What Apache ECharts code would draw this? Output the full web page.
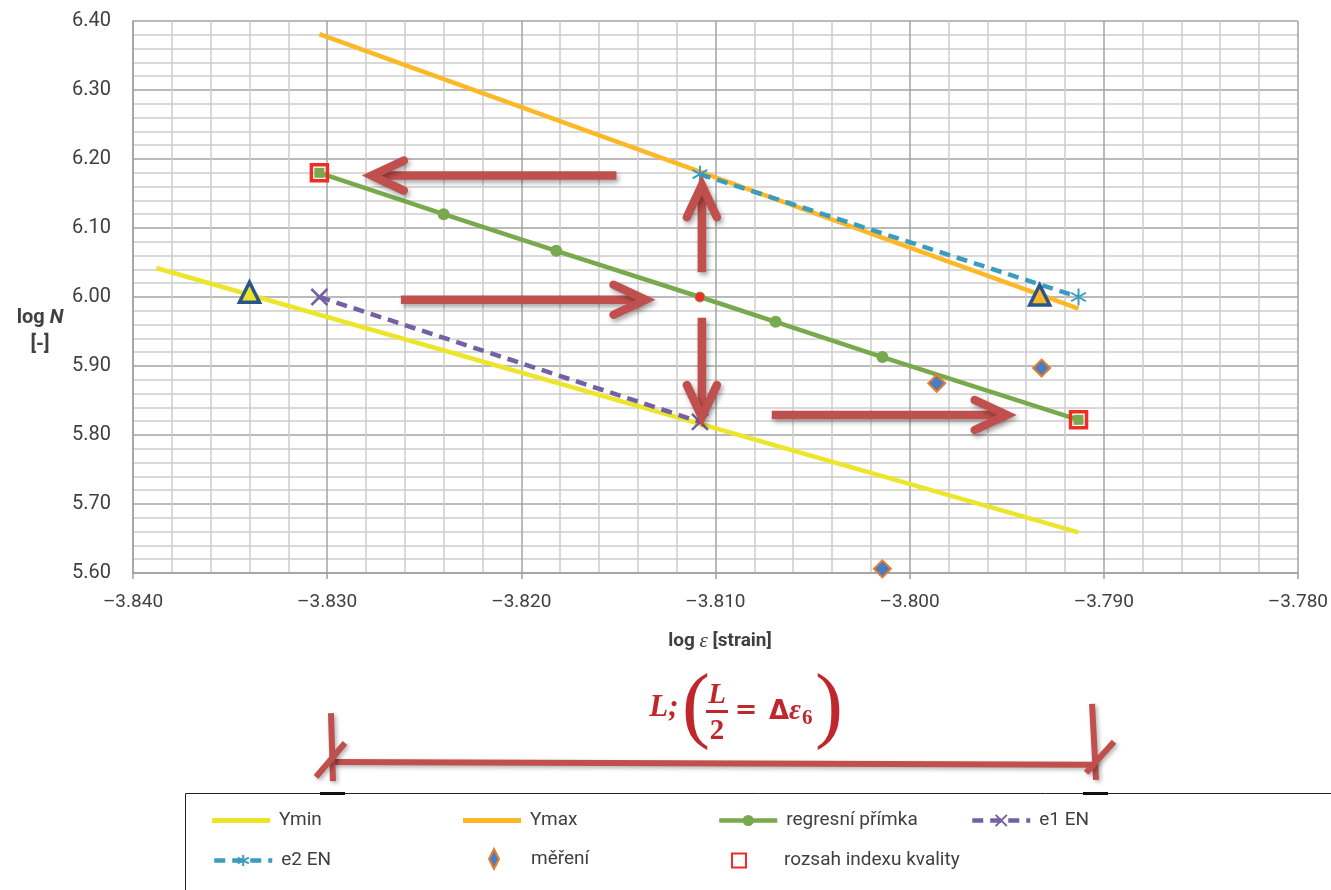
<!DOCTYPE html>
<html><head><meta charset="utf-8">
<script src="https://cdn.jsdelivr.net/npm/echarts@6/dist/echarts.min.js"></script>
<style>html,body{margin:0;padding:0;background:#fff}#c{width:1331px;height:890px}</style>
</head><body><div id="c"></div>
<script>
// ---- tick labels ----
const xTicks = [-3.84, -3.83, -3.82, -3.81, -3.80, -3.79, -3.78];
const xTickLabels = ['–3.840', '–3.830', '–3.820', '–3.810', '–3.800', '–3.790', '–3.780'];
const yTicks = [5.6, 5.7, 5.8, 5.9, 6.0, 6.1, 6.2, 6.3, 6.4];
const yTickLabels = ['5.60', '5.70', '5.80', '5.90', '6.00', '6.10', '6.20', '6.30', '6.40'];

// ---- series values ----
const yminX = [-3.8388, -3.7913];
const yminY = [6.042, 5.659];
const ymaxX = [-3.8304, -3.7913];
const ymaxY = [6.381, 5.983];
const regX = [-3.8304, -3.8240, -3.8182, -3.8108, -3.8069, -3.8014, -3.7913];
const regY = [6.180, 6.120, 6.067, 6.000, 5.964, 5.913, 5.822];
const e1X = [-3.8304, -3.8108];
const e1Y = [6.000, 5.819];
const e2X = [-3.8108, -3.7913];
const e2Y = [6.178, 6.000];
const merX = [-3.7986, -3.7932, -3.8014];
const merY = [5.875, 5.897, 5.606];
const rozX = [-3.8304, -3.7913];
const rozY = [6.180, 5.822];
const triMinX = [-3.8340];
const triMinY = [6.007];
const triMaxX = [-3.7933];
const triMaxY = [6.003];
// annotation arrows: [x1, y1, x2, y2] (tail -> tip)
const arrows = [
  [-3.8151, 6.176, -3.8277, 6.176],
  [-3.8262, 5.996, -3.8136, 5.996],
  [-3.8107, 6.036, -3.8107, 6.162],
  [-3.8107, 5.970, -3.8107, 5.826],
  [-3.8071, 5.829, -3.7950, 5.829]
];
// L range bracket (below the plot)
const bracket = [[-3.8297, 5.326, -3.7905, 5.322]];

const zip = (xs, ys) => xs.map((x, i) => [x, ys[i]]);
const fmtX = v => { const i = xTicks.findIndex(t => Math.abs(t - v) < 1e-6); return i >= 0 ? xTickLabels[i] : ''; };
const fmtY = v => { const i = yTicks.findIndex(t => Math.abs(t - v) < 1e-6); return i >= 0 ? yTickLabels[i] : ''; };

const C = {
  yellow: '#ede52b', orange: '#fdb827', green: '#78a94c', purple: '#7460a4',
  teal: '#3c9cbd', blueFill: '#4a7cc4', orangeBorder: '#e67e2a', red: '#ee2d24',
  triBorder: '#2c5587', arrow: '#c0504d', text: '#404040', Ltext: '#c0272d'
};
const FONT = 'Roboto, "Liberation Sans", sans-serif';

const regData = zip(regX, regY).map((p, i) => {
  const d = { value: p };
  if (i === 0 || i === regX.length - 1) { d.symbol = 'rect'; d.symbolSize = 10; }
  if (i === 3) { d.itemStyle = { color: C.red, borderColor: C.green, borderWidth: 1 }; d.symbolSize = 10; }
  return d;
});

function arrowItem(params, api) {
  const p1 = api.coord([api.value(0), api.value(1)]);
  const p2 = api.coord([api.value(2), api.value(3)]);
  const dx = p2[0] - p1[0], dy = p2[1] - p1[1];
  const len = Math.hypot(dx, dy), ux = dx / len, uy = dy / len;
  const back = 32, side = 15;
  const h1 = [p2[0] - ux * back - uy * side, p2[1] - uy * back + ux * side];
  const h2 = [p2[0] - ux * back + uy * side, p2[1] - uy * back - ux * side];
  const shadow = { shadowBlur: 5, shadowColor: 'rgba(0,0,0,0.35)', shadowOffsetX: 2, shadowOffsetY: 3 };
  return {
    type: 'group',
    children: [
      { type: 'line', shape: { x1: p1[0], y1: p1[1], x2: p2[0] - ux * 5, y2: p2[1] - uy * 5 },
        style: Object.assign({ stroke: C.arrow, lineWidth: 8.5, lineCap: 'butt' }, shadow) },
      { type: 'polyline', shape: { points: [h1, p2, h2] },
        style: Object.assign({ stroke: C.arrow, lineWidth: 8.5, lineCap: 'round', lineJoin: 'miter', fill: null }, shadow) }
    ]
  };
}

function bracketItem(params, api) {
  const p1 = api.coord([api.value(0), api.value(1)]);
  const p2 = api.coord([api.value(2), api.value(3)]);
  const shadow = { shadowBlur: 4, shadowColor: 'rgba(0,0,0,0.3)', shadowOffsetX: 2, shadowOffsetY: 2 };
  const st = Object.assign({ stroke: C.arrow, lineWidth: 6, lineCap: 'butt' }, shadow);
  const L = (a, b, c, d) => ({ type: 'line', shape: { x1: a, y1: b, x2: c, y2: d }, style: st });
  return {
    type: 'group',
    children: [
      L(p1[0], p1[1], p2[0], p2[1]),
      L(p1[0] - 2, p1[1] - 49, p1[0] + 0, p1[1] + 19),
      L(p1[0] - 17, p1[1] + 15, p1[0] + 12, p1[1] - 19),
      L(p2[0] - 2, p2[1] - 61, p2[0] + 2, p2[1] + 15),
      L(p2[0] - 8, p2[1] + 8, p2[0] + 20, p2[1] - 23)
    ]
  };
}

const mkLegend = (item, left, top, w, h, padLeft) => ({
  data: [item], left, top, itemWidth: w, itemHeight: h, itemGap: 0,
  textStyle: { color: C.text, fontSize: 19, fontFamily: FONT, padding: [0, 0, 0, padLeft] },
  lineStyle: { width: 4.5 },
  selectedMode: false, padding: 0
});
const lineIcon = 'path://M0,0H58V5H0Z';

const option = {
  animation: false,
  backgroundColor: '#fff',
  grid: { left: 133, right: 32, top: 21, bottom: 317, containLabel: false },
  xAxis: {
    type: 'value', min: -3.84, max: -3.78, interval: 0.01,
    axisLine: { show: true, onZero: false, lineStyle: { color: '#a0a0a0', width: 1.5 } },
    axisTick: { show: true, length: 6, lineStyle: { color: '#a0a0a0', width: 1.5 } },
    axisLabel: { formatter: fmtX, color: C.text, fontSize: 19, fontFamily: FONT, margin: 20 },
    splitLine: { show: true, lineStyle: { color: '#a3a3a3', width: 1.5 } },
    minorTick: { show: false, splitNumber: 5 },
    minorSplitLine: { show: true, lineStyle: { color: '#cdcdcd', width: 1.5 } }
  },
  yAxis: {
    type: 'value', min: 5.6, max: 6.4, interval: 0.1,
    axisLine: { show: true, lineStyle: { color: '#a0a0a0', width: 1.5 } },
    axisTick: { show: false },
    axisLabel: { formatter: fmtY, color: C.text, fontSize: 20, fontFamily: FONT, margin: 22 },
    splitLine: { show: true, lineStyle: { color: '#a3a3a3', width: 1.5 } },
    minorTick: { show: false, splitNumber: 5 },
    minorSplitLine: { show: true, lineStyle: { color: '#cdcdcd', width: 1.5 } }
  },
  legend: [
    mkLegend({ name: 'Ymin', icon: lineIcon }, 212, 811, 58, 14, 4),
    mkLegend({ name: 'Ymax', icon: lineIcon }, 463, 811, 58, 14, 4),
    mkLegend('regresní přímka', 717, 811, 58, 14, 4),
    mkLegend('e1 EN', 970, 811, 58, 14, 4),
    mkLegend('e2 EN', 212, 851, 58, 14, 4),
    mkLegend({ name: 'měření', icon: 'path://M5,0L10,10L5,20L0,10Z' }, 488, 848, 10, 20, 27),
    mkLegend({ name: 'rozsah indexu kvality', icon: 'path://M0,0H10V10H0Z' }, 731, 851, 14, 14, 33)
  ],
  series: [
    { name: 'Ymin', type: 'line', data: zip(yminX, yminY), symbol: 'none', z: 2,
      lineStyle: { color: C.yellow, width: 4.5 }, itemStyle: { color: C.yellow } },
    { name: 'Ymax', type: 'line', data: zip(ymaxX, ymaxY), symbol: 'none', z: 2,
      lineStyle: { color: C.orange, width: 4.5 }, itemStyle: { color: C.orange } },
    { name: 'regresní přímka', type: 'line', data: regData, symbol: 'circle', symbolSize: 12, z: 3,
      lineStyle: { color: C.green, width: 4.5 }, itemStyle: { color: C.green } },
    { name: 'e1 EN', type: 'line', data: zip(e1X, e1Y), z: 3,
      symbol: 'path://M0,0L10,10M10,0L0,10', symbolSize: 16, symbolKeepAspect: true,
      lineStyle: { color: C.purple, width: 4.5, type: [11, 7] },
      itemStyle: { color: C.purple, borderColor: C.purple, borderWidth: 2.5 } },
    { name: 'e2 EN', type: 'line', data: zip(e2X, e2Y), z: 3,
      symbol: 'path://M5,0L5,10M0.67,2.5L9.33,7.5M0.67,7.5L9.33,2.5', symbolSize: 17, symbolKeepAspect: true,
      lineStyle: { color: C.teal, width: 4.5, type: [11, 7] },
      itemStyle: { color: C.teal, borderColor: C.teal, borderWidth: 2 } },
    { name: 'měření', type: 'scatter', data: zip(merX, merY), symbol: 'diamond', symbolSize: 17, z: 4,
      itemStyle: { color: C.blueFill, borderColor: C.orangeBorder, borderWidth: 2, opacity: 1 } },
    { name: 'rozsah indexu kvality', type: 'scatter', data: zip(rozX, rozY), symbol: 'rect', symbolSize: 16, z: 5,
      itemStyle: { color: 'rgba(255,255,255,0)', borderColor: C.red, borderWidth: 3.5, opacity: 1 } },
    { name: 'triMin', type: 'scatter', data: zip(triMinX, triMinY), symbol: 'triangle', symbolSize: [20, 20], z: 5,
      itemStyle: { color: C.yellow, borderColor: C.triBorder, borderWidth: 3.5, opacity: 1 } },
    { name: 'triMax', type: 'scatter', data: zip(triMaxX, triMaxY), symbol: 'triangle', symbolSize: [20, 20], z: 5,
      itemStyle: { color: C.orange, borderColor: C.triBorder, borderWidth: 3.5, opacity: 1 } },
    { name: 'arrows', type: 'custom', data: arrows, renderItem: arrowItem, z: 6,
      encode: { x: [0, 2], y: [1, 3] }, silent: true },
    { name: 'bracket', type: 'custom', data: bracket, renderItem: bracketItem, z: 6, clip: false,
      encode: { x: [0, 2], y: [1, 3] }, silent: true }
  ],
  graphic: [
    { type: 'rect', z: -1, shape: { x: 185.5, y: 793.5, width: 1200, height: 120 },
      style: { fill: '#fff', stroke: '#222', lineWidth: 1 } },
    { type: 'rect', z: 1, shape: { x: 320, y: 792, width: 25, height: 3 }, style: { fill: '#111' } },
    { type: 'rect', z: 1, shape: { x: 1083, y: 792, width: 25, height: 3 }, style: { fill: '#111' } },
    // y-axis title
    { type: 'text', x: 40, y: 318, style: { text: '{a|log }{b|N}', align: 'center', verticalAlign: 'middle',
      rich: { a: { fontSize: 20, fontWeight: 'bold', fontFamily: FONT, fill: C.text },
              b: { fontSize: 20, fontWeight: 'bold', fontStyle: 'italic', fontFamily: FONT, fill: C.text } } } },
    { type: 'text', x: 40, y: 345, style: { text: '[-]', align: 'center', verticalAlign: 'middle',
      fontSize: 20, fontWeight: 'bold', fontFamily: FONT, fill: C.text } },
    // x-axis title
    { type: 'text', x: 720, y: 641, style: { text: '{a|log }{e|ε}{a| [strain]}', align: 'center', verticalAlign: 'middle',
      rich: { a: { fontSize: 19, fontWeight: 'bold', fontFamily: FONT, fill: C.text },
              e: { fontSize: 21, fontStyle: 'italic', fontFamily: '"Liberation Serif", serif', fill: C.text } } } },
    // L annotation
    { type: 'text', x: 664, y: 708, style: { text: 'L;', align: 'center', verticalAlign: 'middle',
      font: 'italic bold 31px "Liberation Serif", serif', fill: C.Ltext } },
    { type: 'text', x: 696, y: 710, style: { text: '(', align: 'center', verticalAlign: 'middle',
      font: '84px "Liberation Serif", serif', fill: C.Ltext } },
    { type: 'text', x: 829, y: 710, style: { text: ')', align: 'center', verticalAlign: 'middle',
      font: '84px "Liberation Serif", serif', fill: C.Ltext } },
    { type: 'text', x: 717, y: 696, style: { text: 'L', align: 'center', verticalAlign: 'middle',
      font: 'italic bold 29px "Liberation Serif", serif', fill: C.Ltext } },
    { type: 'rect', shape: { x: 706, y: 710, width: 22, height: 3 }, style: { fill: C.Ltext } },
    { type: 'text', x: 717, y: 732, style: { text: '2', align: 'center', verticalAlign: 'middle',
      font: 'bold 29px "Liberation Serif", serif', fill: C.Ltext } },
    { type: 'text', x: 746, y: 711, style: { text: '=', align: 'center', verticalAlign: 'middle',
      font: 'bold 27px "DejaVu Sans", sans-serif', fill: C.Ltext } },
    { type: 'text', x: 769, y: 712, style: { text: '{d|Δ}{e|ε}{s|6}', align: 'left', verticalAlign: 'middle',
      rich: { d: { font: 'bold 26px "DejaVu Sans", sans-serif', fill: C.Ltext },
              e: { font: 'italic bold 29px "Liberation Serif", serif', fill: C.Ltext },
              s: { font: 'bold 21px "Liberation Serif", serif', fill: C.Ltext, padding: [14, 0, 0, 1] } } } }
  ]
};

const chart = echarts.init(document.getElementById('c'), null, { renderer: 'canvas', width: 1331, height: 890 });
chart.setOption(option);
</script>
</body></html>
